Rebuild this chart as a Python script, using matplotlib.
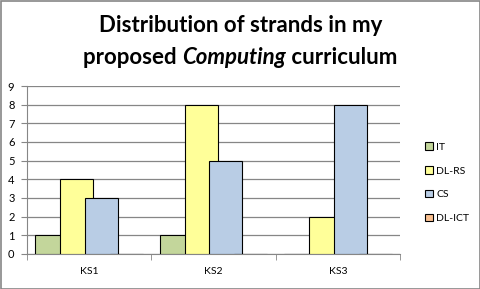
import numpy as np
import matplotlib
matplotlib.use("Agg")
import matplotlib.pyplot as plt
from matplotlib.patches import Patch, Rectangle

plt.rcParams['font.family'] = ['Lato', 'DejaVu Sans']

categories = ["KS1", "KS2", "KS3"]
series = ["IT", "DL-RS", "CS", "DL-ICT"]
it_vals = [1, 1, 0]
dlrs_vals = [4, 8, 2]
cs_vals = [3, 5, 8]
dlict_vals = [0, 0, 0]
colors = ["#C3D69B", "#FFFF99", "#B9CDE5", "#FAC090"]

W, H = 481, 289
fig = plt.figure(figsize=(W / 100, H / 100), dpi=100)
fig.patches.append(Rectangle((0.5 / W, 0.5 / H), 1 - 1.5 / W, 1 - 1.5 / H,
                             transform=fig.transFigure, fill=False,
                             edgecolor="#868686", linewidth=1.2))

ax = fig.add_axes([27 / W, (H - 254) / H, 373 / W, 168 / H])

x = np.arange(len(categories)) + 0.5
all_vals = [it_vals, dlrs_vals, cs_vals, dlict_vals]
for i, vals in enumerate(all_vals):
    ax.bar(x + (i - 1.5) * 0.2, vals, width=0.265, color=colors[i],
           edgecolor="black", linewidth=0.8, zorder=3 + i)

ax.set_xlim(0, 3)
ax.set_ylim(0, 9)
ax.set_yticks(range(10))
ax.set_xticks(x)
ax.set_xticklabels(categories)
ax.set_xticks([0, 1, 2, 3], minor=True)
ax.tick_params(axis="x", which="major", length=0, pad=9, labelsize=7.5)
ax.tick_params(axis="x", which="minor", length=4, color="#868686", direction="out")
ax.tick_params(axis="y", length=4, color="#868686", labelsize=8, pad=5)
ax.grid(axis="y", color="#868686", linewidth=0.9, zorder=0)
for s in ["top", "right"]:
    ax.spines[s].set_visible(False)
for s in ["left", "bottom"]:
    ax.spines[s].set_color("#868686")

handles = [Patch(facecolor=c, edgecolor="black", linewidth=0.8) for c in colors]
fig.legend(handles, series, loc="upper left", bbox_to_anchor=(416 / W, 1 - 133 / H),
           frameon=False, fontsize=7.5, handlelength=0.7, handleheight=0.7,
           handletextpad=0.35, labelspacing=1.4)

# title, second line has an italic word
fig.text(0.5, 1 - 25 / H, "Distribution of strands in my", ha="center", va="center",
         fontsize=16, fontweight="bold")
parts = [("proposed ", "normal"), ("Computing", "italic"), (" curriculum", "normal")]
r = fig.canvas.get_renderer()
texts = []
for s, st in parts:
    t = fig.text(0, 1 - 57 / H, s, ha="left", va="center", fontsize=16,
                 fontweight="bold", fontstyle=st)
    texts.append(t)
widths = [t.get_window_extent(r).width for t in texts]
xpos = (W - sum(widths)) / 2
for t, w in zip(texts, widths):
    t.set_x(xpos / W)
    xpos += w

fig.savefig("out.png", dpi=100)
